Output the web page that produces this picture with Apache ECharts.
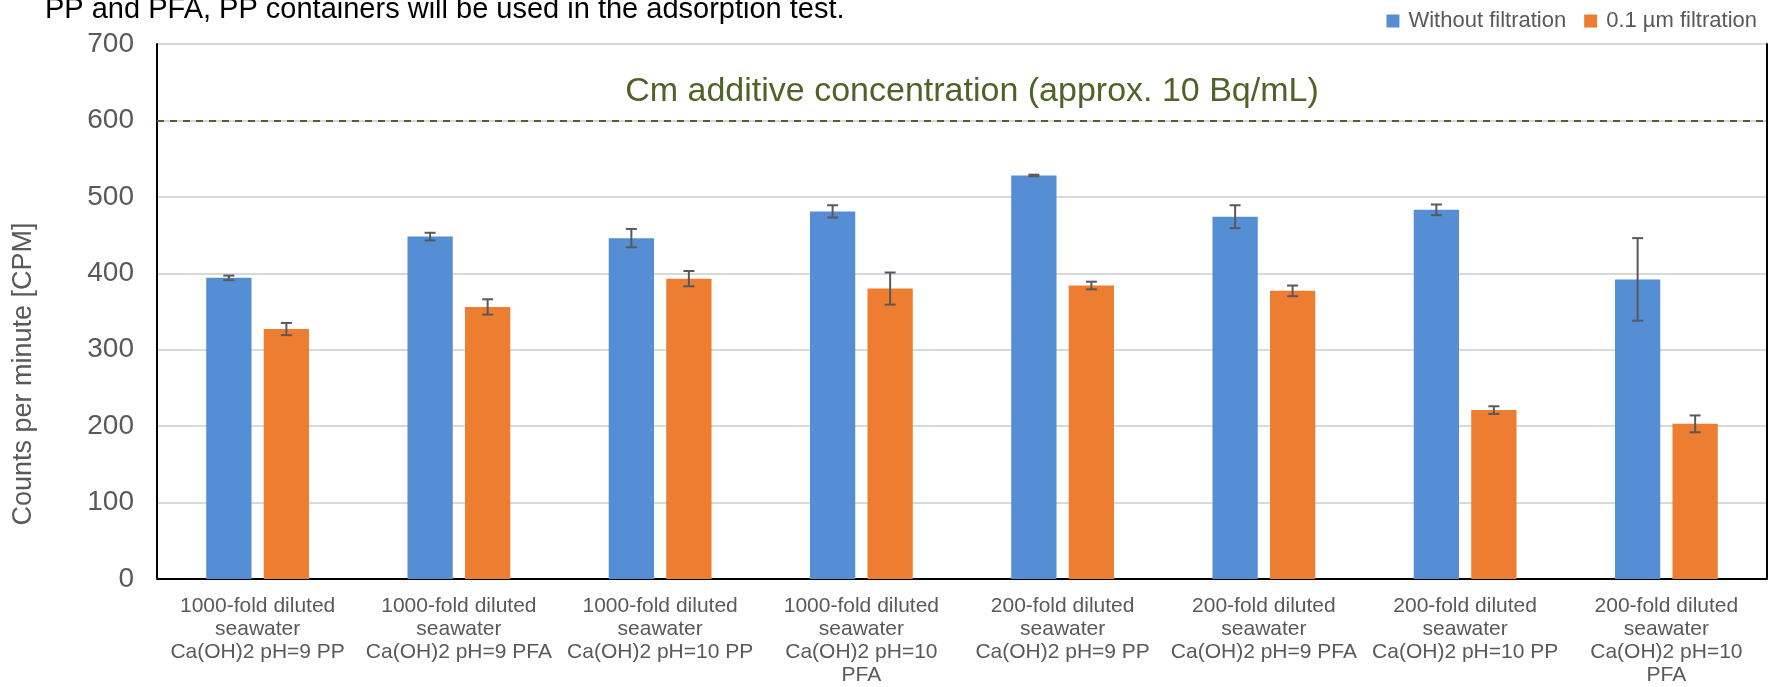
<!DOCTYPE html>
<html>
<head>
<meta charset="utf-8">
<title>Cm adsorption test</title>
<script src="https://cdn.jsdelivr.net/npm/echarts@6/dist/echarts.min.js"></script>
<style>
  html, body { margin: 0; padding: 0; background: #ffffff; }
  #chart { width: 1769px; height: 687px; }
</style>
</head>
<body>
<div id="chart"></div>
<script>
// Sample conditions (x-axis categories)
const categories = [
  '1000-fold diluted\nseawater\nCa(OH)2 pH=9 PP',
  '1000-fold diluted\nseawater\nCa(OH)2 pH=9 PFA',
  '1000-fold diluted\nseawater\nCa(OH)2 pH=10 PP',
  '1000-fold diluted\nseawater\nCa(OH)2 pH=10\nPFA',
  '200-fold diluted\nseawater\nCa(OH)2 pH=9 PP',
  '200-fold diluted\nseawater\nCa(OH)2 pH=9 PFA',
  '200-fold diluted\nseawater\nCa(OH)2 pH=10 PP',
  '200-fold diluted\nseawater\nCa(OH)2 pH=10\nPFA'
];

// Mean count rates [CPM] and their error half-widths
const withoutFiltration = [394, 448, 446, 481, 528, 474, 483, 392];
const withoutFiltrationErr = [3, 5, 12, 8, 1, 15, 7, 54];
const filtered01um = [327, 356, 393, 380, 384, 377, 221, 203];
const filtered01umErr = [8, 10, 10, 21, 5, 7, 5, 11];

// Added Cm activity level
const cmAdditiveLevel = 600;

// Y-axis ticks
const yMin = 0, yMax = 700, yStep = 100;

const seriesNames = ['Without filtration', '0.1 µm filtration'];
const colors = ['#558ed5', '#ed7d31'];

const BAR_WIDTH_RATIO = 0.225;  // bar width relative to category band
const BAR_GAP_RATIO = 0.27;     // gap between paired bars, relative to bar width

function errorBarRenderer(seriesIdx, values, errs) {
  return function (params, api) {
    const i = api.value(0);
    const v = values[i];
    const e = errs[i];
    const band = api.size([1, 0])[0];
    const w = band * BAR_WIDTH_RATIO;
    const total = 2 * w + w * BAR_GAP_RATIO;
    const offset = -total / 2 + w / 2 + seriesIdx * (w + w * BAR_GAP_RATIO);
    const top = api.coord([i, v + e]);
    const bot = api.coord([i, v - e]);
    const x = top[0] + offset;
    const cap = 5.5;
    const style = { stroke: '#595959', lineWidth: 2 };
    return {
      type: 'group',
      children: [
        { type: 'line', shape: { x1: x, y1: top[1], x2: x, y2: bot[1] }, style },
        { type: 'line', shape: { x1: x - cap, y1: top[1], x2: x + cap, y2: top[1] }, style },
        { type: 'line', shape: { x1: x - cap, y1: bot[1], x2: x + cap, y2: bot[1] }, style }
      ]
    };
  };
}

const chart = echarts.init(document.getElementById('chart'), null, { renderer: 'canvas' });
const fontFamily = '"Liberation Sans", Arial, sans-serif';

chart.setOption({
  animation: false,
  textStyle: { fontFamily },
  graphic: [{
    type: 'text',
    left: 45,
    top: -5,
    style: {
      text: 'PP and PFA, PP containers will be used in the adsorption test.',
      font: '29px ' + fontFamily,
      fill: '#000000'
    }
  }, {
    // y-axis title, placed a little below the plot's centre
    type: 'text',
    x: 24,
    y: 374,
    rotation: Math.PI / 2,
    style: {
      text: 'Counts per minute [CPM]',
      font: '27px ' + fontFamily,
      fill: '#595959',
      align: 'center',
      verticalAlign: 'middle'
    }
  }],
  legend: {
    data: seriesNames,
    right: 7,
    top: 5,
    icon: 'rect',
    itemWidth: 13,
    itemHeight: 13,
    itemGap: 18,
    textStyle: { color: '#595959', fontSize: 22, fontFamily, padding: [0, 0, 0, 4] }
  },
  grid: { left: 157, right: 2, top: 44, bottom: 106, containLabel: false },
  xAxis: [{
    type: 'category',
    data: categories,
    axisLine: { lineStyle: { color: '#d9d9d9', width: 2 } },
    axisTick: { show: false },
    axisLabel: {
      interval: 0,
      color: '#595959',
      fontSize: 21,
      lineHeight: 23,
      margin: 16,
      fontFamily
    }
  }, {
    type: 'category',
    data: categories,
    position: 'top',
    axisLine: { show: true, lineStyle: { color: '#000000', width: 2 } },
    axisTick: { show: false },
    axisLabel: { show: false }
  }],
  yAxis: [{
    type: 'value',
    min: yMin,
    max: yMax,
    interval: yStep,
    axisLine: { show: true, lineStyle: { color: '#000000', width: 2 } },
    axisTick: { show: false },
    axisLabel: { color: '#595959', fontSize: 28, margin: 23, padding: [5, 0, 0, 0], fontFamily },
    splitLine: { lineStyle: { color: '#d9d9d9', width: 2 } }
  }, {
    type: 'value',
    min: yMin,
    max: yMax,
    interval: yStep,
    position: 'right',
    axisLine: { show: true, lineStyle: { color: '#000000', width: 2 } },
    axisTick: { show: false },
    axisLabel: { show: false },
    splitLine: { show: false }
  }],
  series: [
    {
      name: seriesNames[0],
      type: 'bar',
      data: withoutFiltration,
      barWidth: (BAR_WIDTH_RATIO * 100) + '%',
      barGap: (BAR_GAP_RATIO * 100) + '%',
      itemStyle: { color: colors[0] },
      markLine: {
        silent: true,
        symbol: ['none', 'none'],
        data: [{ yAxis: cmAdditiveLevel }],
        lineStyle: { color: '#4f6228', type: [7, 6], width: 2 },
        label: {
          show: true,
          position: 'insideMiddleTop',
          formatter: 'Cm additive concentration (approx. 10 Bq/mL)',
          color: '#4f6228',
          fontSize: 34,
          distance: 12,
          padding: [0, 0, 0, 20],
          fontFamily
        }
      }
    },
    {
      name: seriesNames[1],
      type: 'bar',
      data: filtered01um,
      barWidth: (BAR_WIDTH_RATIO * 100) + '%',
      barGap: (BAR_GAP_RATIO * 100) + '%',
      itemStyle: { color: colors[1] }
    },
    {
      type: 'custom',
      name: 'err-without',
      data: withoutFiltration.map((v, i) => [i, v]),
      renderItem: errorBarRenderer(0, withoutFiltration, withoutFiltrationErr),
      z: 5,
      silent: true
    },
    {
      type: 'custom',
      name: 'err-filtered',
      data: filtered01um.map((v, i) => [i, v]),
      renderItem: errorBarRenderer(1, filtered01um, filtered01umErr),
      z: 5,
      silent: true
    }
  ]
});
</script>
</body>
</html>
